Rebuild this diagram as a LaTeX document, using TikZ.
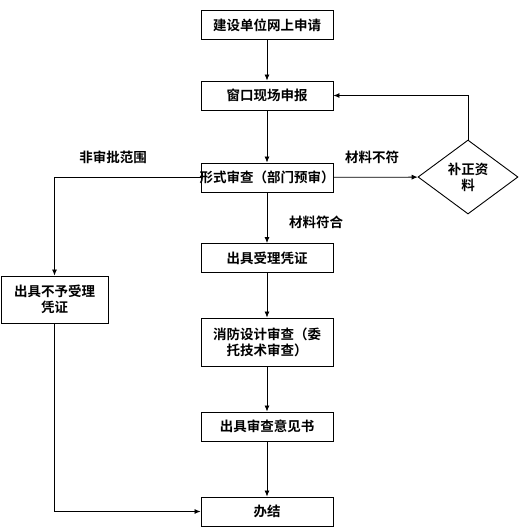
\documentclass[tikz,border=0pt]{standalone}
\usepackage{fontspec}
\newfontfamily\cjk{Noto Sans CJK SC}[BoldFont={Noto Sans CJK SC Bold}]
\usetikzlibrary{arrows.meta,shapes.geometric}
\begin{document}
\begin{tikzpicture}[x=1pt,y=-1pt,
  font=\cjk\bfseries\fontsize{13.5}{16}\selectfont,
  box/.style={draw,line width=0.9pt,inner sep=0pt,minimum width=132pt,minimum height=29pt,align=center},
  flow/.style={-{Latex[length=6pt,width=5pt]},line width=0.8pt},
  lbl/.style={inner sep=0pt}]
  \useasboundingbox (0,0) rectangle (519,527);
  % boxes
  \node[box] (apply) at (267,25) {建设单位网上申请};
  \node[box] (window) at (267,95.5) {窗口现场申报};
  \node[box] (form) at (267,177.5) {\makebox[131pt]{形式审查（部门预审）}};
  \node[box] (accept) at (267,258) {出具受理凭证};
  \node[box,minimum height=48pt] (review) at (267,342) {消防设计审查（委\\托技术审查）};
  \node[box] (opinion) at (267,426.5) {出具审查意见书};
  \node[box] (done) at (267,511.5) {办结};
  \node[box,minimum width=107pt,minimum height=47pt] (reject) at (54.5,299.5) {出具不予受理\\凭证};
  \node[draw,diamond,line width=0.9pt,inner sep=0pt,minimum width=100pt,minimum height=74pt,align=center] (fix) at (468,177) {补正资\\料};
  % labels
  \node[lbl] (outside) at (113,157) {非审批范围};
  \node[lbl] (bad) at (372,157) {材料不符};
  \node[lbl] (good) at (316,222) {材料符合};
  % connectors
  \draw[flow] (apply) -- (window);
  \draw[flow] (window) -- (form);
  \draw[flow] (form) -- (fix);
  \draw[flow] (fix.north) |- (window.east);
  \draw[flow] (form.west) -| (reject.north);
  \draw[flow] (form) -- (accept);
  \draw[flow] (accept) -- (review);
  \draw[flow] (review) -- (opinion);
  \draw[flow] (opinion) -- (done);
  \draw[flow] (reject.south) |- (done.west);
\end{tikzpicture}
\end{document}
